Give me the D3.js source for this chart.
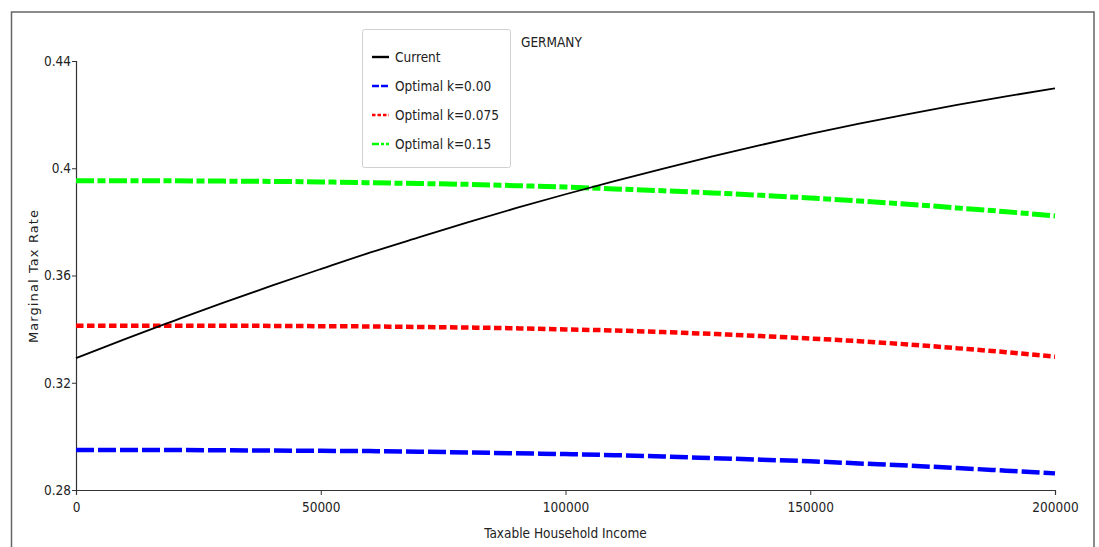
<!DOCTYPE html>
<html>
<head>
<meta charset="utf-8">
<script src="https://cdn.jsdelivr.net/npm/d3@7"></script>
<style>
  html, body { margin: 0; padding: 0; background: #fff; }
  svg { display: block; }
  .cond { font-family: "DejaVu Sans Condensed", "DejaVu Sans", sans-serif; font-stretch: condensed; }
</style>
</head>
<body>
<svg id="chart" width="1099" height="547"></svg>
<script>
// Taxable household income grid (EUR)
const income = [0, 10000, 20000, 30000, 40000, 50000, 60000, 70000, 80000, 90000, 100000,
  110000, 120000, 130000, 140000, 150000, 160000, 170000, 180000, 190000, 200000];

// Marginal tax rate schedules, Germany
const current = [0.3292, 0.3363, 0.3431, 0.3498, 0.3562, 0.3624, 0.3685, 0.3742, 0.3798, 0.3852, 0.3903,
  0.3952, 0.3999, 0.4044, 0.4087, 0.4128, 0.4166, 0.4202, 0.4236, 0.4268, 0.4298];
const optimalK000 = [0.2949, 0.2949, 0.2949, 0.2948, 0.2947, 0.2946, 0.2945, 0.2943, 0.2940, 0.2937, 0.2934,
  0.2930, 0.2925, 0.2919, 0.2913, 0.2907, 0.2899, 0.2891, 0.2882, 0.2872, 0.2862];
const optimalK075 = [0.3413, 0.3413, 0.3413, 0.3413, 0.3412, 0.3411, 0.3410, 0.3408, 0.3406, 0.3403, 0.3399,
  0.3395, 0.3389, 0.3382, 0.3374, 0.3365, 0.3355, 0.3343, 0.3329, 0.3314, 0.3297];
const optimalK150 = [0.3953, 0.3953, 0.3953, 0.3952, 0.3951, 0.3949, 0.3946, 0.3943, 0.3940, 0.3935, 0.3930,
  0.3923, 0.3916, 0.3908, 0.3899, 0.3889, 0.3878, 0.3866, 0.3852, 0.3838, 0.3822];

const seriesNames = ["Current", "Optimal k=0.00", "Optimal k=0.075", "Optimal k=0.15"];

const xTicks = [0, 50000, 100000, 150000, 200000];
const xTickLabels = ["0", "50000", "100000", "150000", "200000"];
const yTicks = [0.28, 0.32, 0.36, 0.40, 0.44];
const yTickLabels = ["0.28", "0.32", "0.36", "0.4", "0.44"];

const titleText = "GERMANY";
const xTitle = "Taxable Household Income";
const yTitle = "Marginal Tax Rate";

const styles = [
  { color: "#000000", width: 1.8, dash: null,           legendDash: null },
  { color: "#0000ff", width: 4.5, dash: "18,4",         legendDash: "7,2" },
  { color: "#ff0000", width: 4.5, dash: "7.5,3.5",      legendDash: "3.5,2" },
  { color: "#00ff00", width: 5,   dash: "18,3.5,8,3.5", legendDash: "7,2,3,2" }
];
const seriesValues = [current, optimalK000, optimalK075, optimalK150];

const svg = d3.select("#chart");

// outer frame
svg.append("rect")
  .attr("x", 11.5).attr("y", 12)
  .attr("width", 1082.5).attr("height", 560)
  .attr("fill", "none").attr("stroke", "#666").attr("stroke-width", 1.5);

const x = d3.scaleLinear().domain([0, 200000]).range([76, 1055]);
const y = d3.scaleLinear().domain([0.28, 0.44]).range([490, 61]);

// axes
const xAxis = svg.append("g")
  .attr("transform", `translate(0,${y(0.28)})`)
  .call(d3.axisBottom(x).tickValues(xTicks)
    .tickFormat((d, i) => xTickLabels[i]).tickSizeOuter(0).tickSize(5).tickPadding(7));
const yAxis = svg.append("g")
  .attr("transform", `translate(${x(0)},0)`)
  .call(d3.axisLeft(y).tickValues(yTicks)
    .tickFormat((d, i) => yTickLabels[i]).tickSizeOuter(0).tickSize(4).tickPadding(1));

[xAxis, yAxis].forEach(g => {
  g.select(".domain").attr("stroke", "#333").attr("stroke-width", 1.2);
  g.selectAll(".tick line").attr("stroke", "#333");
  g.selectAll(".tick text")
    .attr("class", "cond")
    .attr("fill", "#222")
    .style("font-size", "13.5px");
});

// series lines
const line = d3.line()
  .x((d, i) => x(income[i]))
  .y(d => y(d))
  .curve(d3.curveMonotoneX);

// dashed optimal schedules first, current schedule on top
[3, 2, 1, 0].forEach(k => {
  svg.append("path")
    .datum(seriesValues[k])
    .attr("d", line)
    .attr("fill", "none")
    .attr("stroke", styles[k].color)
    .attr("stroke-width", styles[k].width)
    .attr("stroke-dasharray", styles[k].dash);
});

// axis titles
svg.append("text")
  .attr("class", "cond")
  .attr("x", x(100000)).attr("y", 538)
  .attr("text-anchor", "middle")
  .attr("fill", "#222")
  .style("font-size", "13.5px")
  .text(xTitle);

svg.append("text")
  .attr("transform", "translate(38,276) rotate(-90)")
  .attr("text-anchor", "middle")
  .attr("fill", "#222")
  .style("font-family", "'DejaVu Sans', sans-serif")
  .style("font-size", "13px")
  .style("letter-spacing", "1.1px")
  .text(yTitle);

// chart title
svg.append("text")
  .attr("class", "cond")
  .attr("x", 521).attr("y", 47)
  .attr("fill", "#222")
  .style("font-size", "13.5px")
  .text(titleText);

// legend
const legend = svg.append("g");
legend.append("rect")
  .attr("x", 362.5).attr("y", 29.5)
  .attr("width", 148).attr("height", 138)
  .attr("rx", 2)
  .attr("fill", "#fff").attr("stroke", "#d0d0d0").attr("stroke-width", 1);

seriesNames.forEach((name, k) => {
  const cy = 57 + k * 29;
  legend.append("line")
    .attr("x1", 372).attr("x2", 389)
    .attr("y1", cy).attr("y2", cy)
    .attr("stroke", styles[k].color)
    .attr("stroke-width", 2.4)
    .attr("stroke-dasharray", styles[k].legendDash);
  legend.append("text")
    .attr("class", "cond")
    .attr("x", 395).attr("y", cy + 5)
    .attr("fill", "#222")
    .style("font-size", "13.5px")
    .text(name);
});
</script>
</body>
</html>
